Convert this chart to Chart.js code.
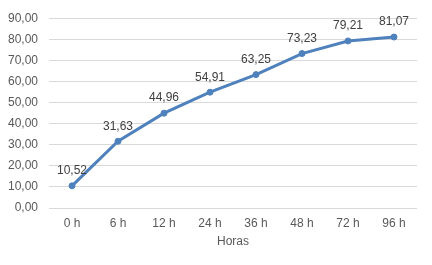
<!DOCTYPE html>
<html><head><meta charset="utf-8">
<script src="https://cdn.jsdelivr.net/npm/chart.js@4"></script>
<style>html,body{margin:0;padding:0;background:#fff}#wrap{width:432px;height:265px}</style>
</head><body><div id="wrap"><canvas id="c" width="432" height="265"></canvas></div>
<script>
const categories = ["0 h","6 h","12 h","24 h","36 h","48 h","72 h","96 h"];
const values = [10.52, 31.63, 44.96, 54.91, 63.25, 73.23, 79.21, 81.07];
const xTitle = "Horas";
const yMin = 0, yMax = 90, yStep = 10;

const fmt = v => v.toFixed(2).replace('.', ',');
const FONT = "'Liberation Sans', Arial, sans-serif";
const BLUE = '#4F81BD';

const labelPlugin = {
  id: 'valLabels',
  afterDatasetsDraw(chart) {
    const ctx = chart.ctx;
    const meta = chart.getDatasetMeta(0);
    ctx.save();
    ctx.font = "12px " + FONT;
    ctx.fillStyle = "#404040";
    ctx.textAlign = "center";
    ctx.textBaseline = "middle";
    meta.data.forEach((pt, i) => {
      ctx.fillText(fmt(values[i]), pt.x, pt.y - 15);
    });
    ctx.restore();
  }
};

new Chart(document.getElementById('c'), {
  type: 'line',
  data: {
    labels: categories,
    datasets: [{
      data: values,
      borderColor: BLUE,
      backgroundColor: BLUE,
      borderWidth: 3,
      pointRadius: 3,
      pointBorderWidth: 1,
      pointHoverRadius: 3,
      pointBackgroundColor: BLUE,
      pointBorderColor: BLUE,
      tension: 0,
      fill: false
    }]
  },
  options: {
    responsive: false,
    animation: false,
    devicePixelRatio: 1,
    layout: { padding: { top: 14, right: 15, bottom: 0, left: 0 } },
    plugins: { legend: { display: false }, tooltip: { enabled: false } },
    scales: {
      x: {
        offset: true,
        grid: { display: false, drawTicks: false },
        border: { display: false },
        ticks: { color: '#595959', font: { size: 12, family: FONT }, padding: 8, maxRotation: 0 },
        title: { display: true, text: xTitle, color: '#595959', font: { size: 12, family: FONT }, padding: { top: 0, bottom: 16 } },
        afterFit(s) { s.height = 57; }
      },
      y: {
        min: yMin, max: yMax,
        grid: { color: '#d9d9d9', lineWidth: 1, drawTicks: false },
        border: { display: false },
        ticks: { stepSize: yStep, color: '#595959', font: { size: 12, family: FONT }, padding: 11, callback: v => fmt(v) },
        afterFit(s) { s.width = 49; }
      }
    }
  },
  plugins: [labelPlugin]
});
</script></body></html>
